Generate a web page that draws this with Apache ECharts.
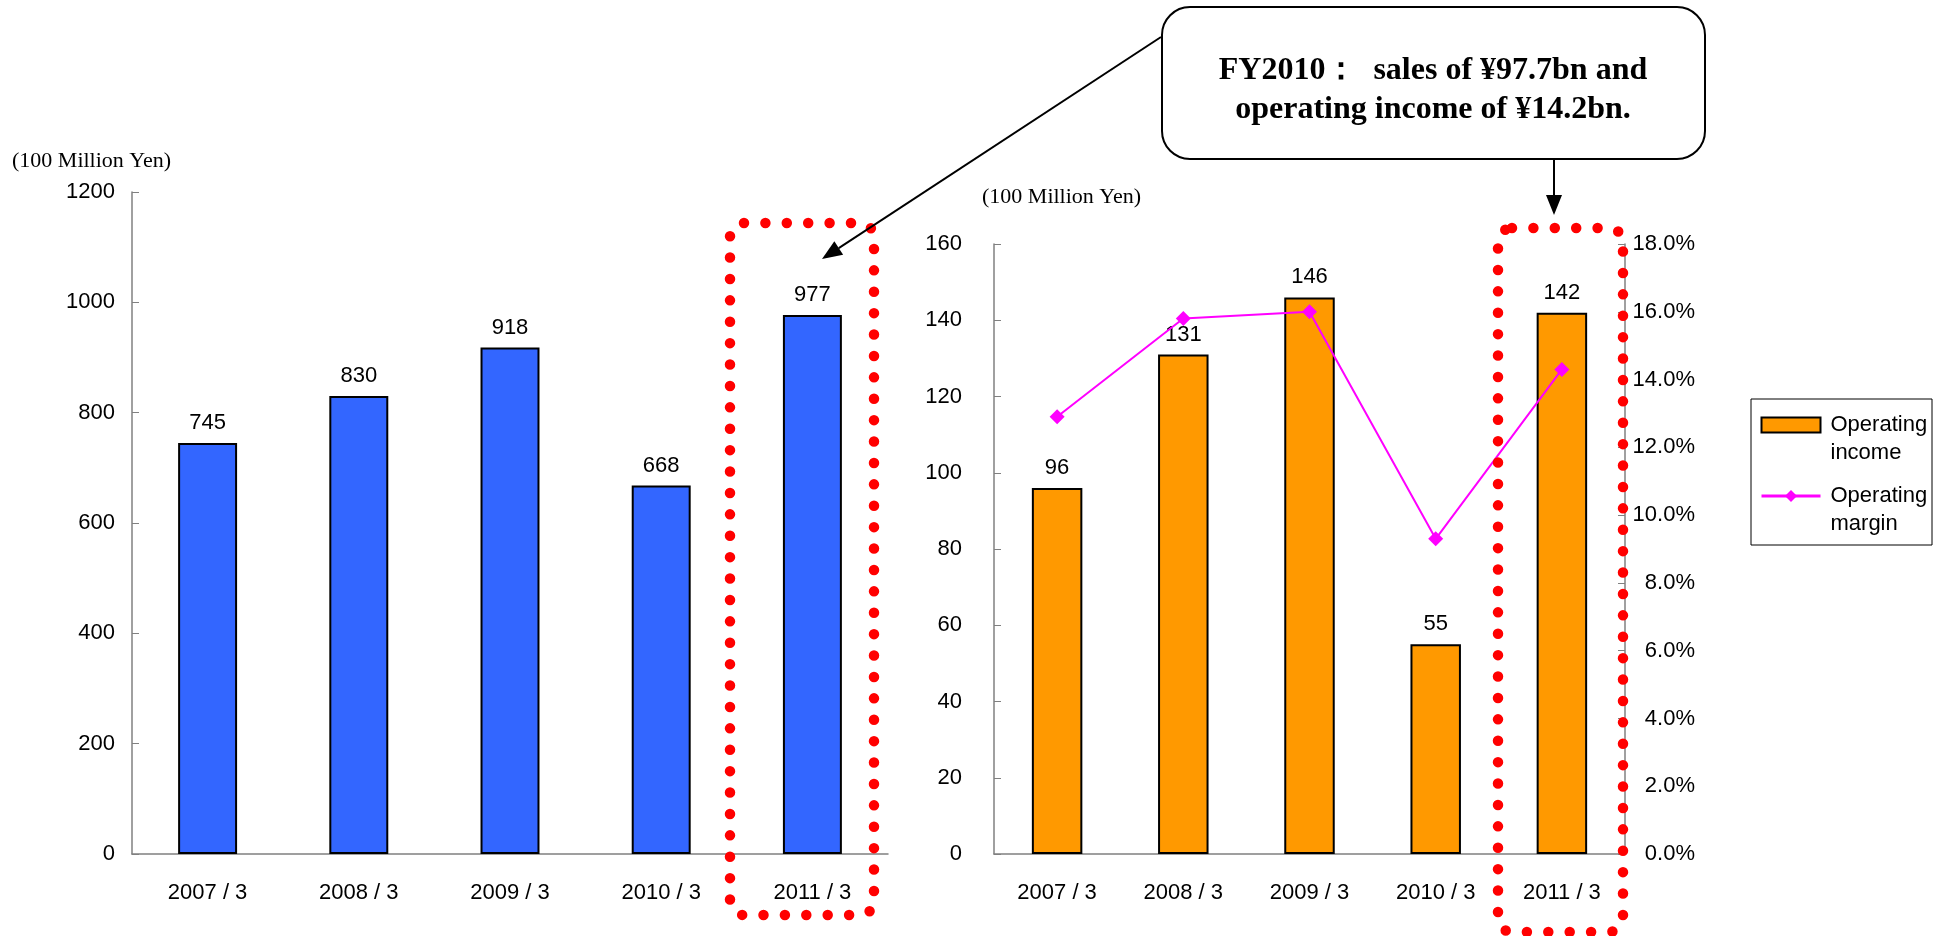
<!DOCTYPE html>
<html>
<head>
<meta charset="utf-8">
<title>Sales and operating income</title>
<script src="https://cdn.jsdelivr.net/npm/echarts@6/dist/echarts.min.js"></script>
<style>
html, body { margin: 0; padding: 0; background: #fff; }
#main { width: 1952px; height: 936px; }
</style>
</head>
<body>
<div id="main"></div>
<script>
var years = ['2007/3', '2008/3', '2009/3', '2010/3', '2011/3'];
var sales = [745, 830, 918, 668, 977];
var operatingIncome = [96, 131, 146, 55, 142];
var operatingMargin = [12.9, 15.8, 16.0, 9.3, 14.3];

var axisColor = '#808080';
var sans = 'Liberation Sans';
var serif = 'Liberation Serif';

function catAxis(grid) {
    return {
        type: 'category',
        gridIndex: grid,
        data: years,
        axisLine: {lineStyle: {color: axisColor, width: 1.5}},
        axisTick: {inside: true, length: 8, lineStyle: {color: axisColor}},
        axisLabel: {
            margin: 28, color: '#000', fontSize: 22, fontFamily: sans,
            formatter: function (v) { return v.replace('/', ' / '); }
        }
    };
}

function valAxis(grid, max, interval, margin) {
    return {
        type: 'value',
        gridIndex: grid,
        min: 0, max: max, interval: interval,
        axisLine: {show: true, lineStyle: {color: axisColor, width: 1.5}},
        axisTick: {show: true, inside: true, length: 7, lineStyle: {color: axisColor}},
        splitLine: {show: false},
        axisLabel: {
            margin: margin, color: '#000', fontSize: 22, fontFamily: sans,
            formatter: function (v) { return String(v); }
        }
    };
}

function barLabel() {
    return {show: true, position: 'top', distance: 9, color: '#000', fontSize: 22, fontFamily: sans};
}

// arrow = line + filled head
function arrow(x1, y1, x2, y2) {
    var dx = x2 - x1, dy = y2 - y1;
    var len = Math.sqrt(dx * dx + dy * dy);
    var ux = dx / len, uy = dy / len, hl = 20, hw = 8;
    var bx = x2 - ux * hl, by = y2 - uy * hl;
    return [
        {type: 'line', z: 110, shape: {x1: x1, y1: y1, x2: bx, y2: by}, style: {stroke: '#000', lineWidth: 2}},
        {type: 'polygon', z: 110, shape: {points: [[x2, y2], [bx - uy * hw, by + ux * hw], [bx + uy * hw, by - ux * hw]]}, style: {fill: '#000'}}
    ];
}

function dotBox(x, y, w, h) {
    return {
        type: 'rect', z: 100,
        shape: {x: x, y: y, width: w, height: h, r: 14},
        style: {fill: 'none', stroke: '#FF0000', lineWidth: 10.5, lineDash: [0, 21.4], lineCap: 'round'}
    };
}

var graphics = [
    {type: 'text', left: 12, top: 150, style: {text: '(100 Million Yen)', fontSize: 22, fontFamily: serif, fill: '#000'}},
    {type: 'text', left: 982, top: 186, style: {text: '(100 Million Yen)', fontSize: 22, fontFamily: serif, fill: '#000'}},
    dotBox(730, 223, 144, 692),
    dotBox(1498, 228, 125, 704),
    {
        type: 'rect', z: 105,
        shape: {x: 1162, y: 7, width: 543, height: 152, r: 28},
        style: {fill: '#fff', stroke: '#000', lineWidth: 2}
    },
    {
        type: 'text', z: 106, x: 1433, y: 90,
        style: {
            text: 'FY2010：  sales of ¥97.7bn and\noperating income of ¥14.2bn.',
            align: 'center', verticalAlign: 'middle', lineHeight: 39,
            fontSize: 32, fontWeight: 'bold', fontFamily: serif, fill: '#000'
        }
    },
    {type: 'rect', shape: {x: 1751, y: 399, width: 181, height: 146}, style: {fill: 'none', stroke: '#000', lineWidth: 1}}
].concat(arrow(1161, 37, 822, 259)).concat(arrow(1554, 159, 1554, 215));

var option = {
    animation: false,
    backgroundColor: '#fff',
    grid: [
        {left: 132, right: 1064, top: 192, bottom: 82},
        {left: 994, right: 327, top: 244, bottom: 82}
    ],
    xAxis: [catAxis(0), catAxis(1)],
    yAxis: [
        valAxis(0, 1200, 200, 17),
        valAxis(1, 160, 20, 32),
        (function () {
            var a = valAxis(1, 18, 2, 70);
            a.position = 'right';
            a.axisLabel.align = 'right';
            a.axisLabel.formatter = function (v) { return v.toFixed(1) + '%'; };
            return a;
        })()
    ],
    legend: {
        data: [{name: 'Operating income', icon: 'rect'}, {name: 'Operating margin'}],
        orient: 'vertical',
        left: 1760, top: 383,
        padding: 0,
        itemWidth: 59, itemHeight: 15, itemGap: -13,
        lineStyle: {width: 3},
        // empty first line keeps the icon level with "Operating"
        formatter: function (n) { return '\n' + n.replace(' ', '\n'); },
        textStyle: {color: '#000', fontSize: 22, fontFamily: sans, lineHeight: 28, padding: [0, 0, 0, 5]}
    },
    graphic: graphics,
    series: [
        {
            name: 'Sales', type: 'bar', xAxisIndex: 0, yAxisIndex: 0,
            data: sales, barWidth: '39%',
            itemStyle: {color: '#3366FF', borderColor: '#000', borderWidth: 2},
            label: barLabel()
        },
        {
            name: 'Operating income', type: 'bar', xAxisIndex: 1, yAxisIndex: 1,
            data: operatingIncome, barWidth: '40%',
            itemStyle: {color: '#FF9900', borderColor: '#000', borderWidth: 2},
            label: barLabel()
        },
        {
            name: 'Operating margin', type: 'line', xAxisIndex: 1, yAxisIndex: 2,
            data: operatingMargin, z: 5,
            symbol: 'diamond', symbolSize: 15,
            itemStyle: {color: '#FF00FF'},
            lineStyle: {color: '#FF00FF', width: 2}
        }
    ]
};

echarts.init(document.getElementById('main')).setOption(option);
</script>
</body>
</html>
